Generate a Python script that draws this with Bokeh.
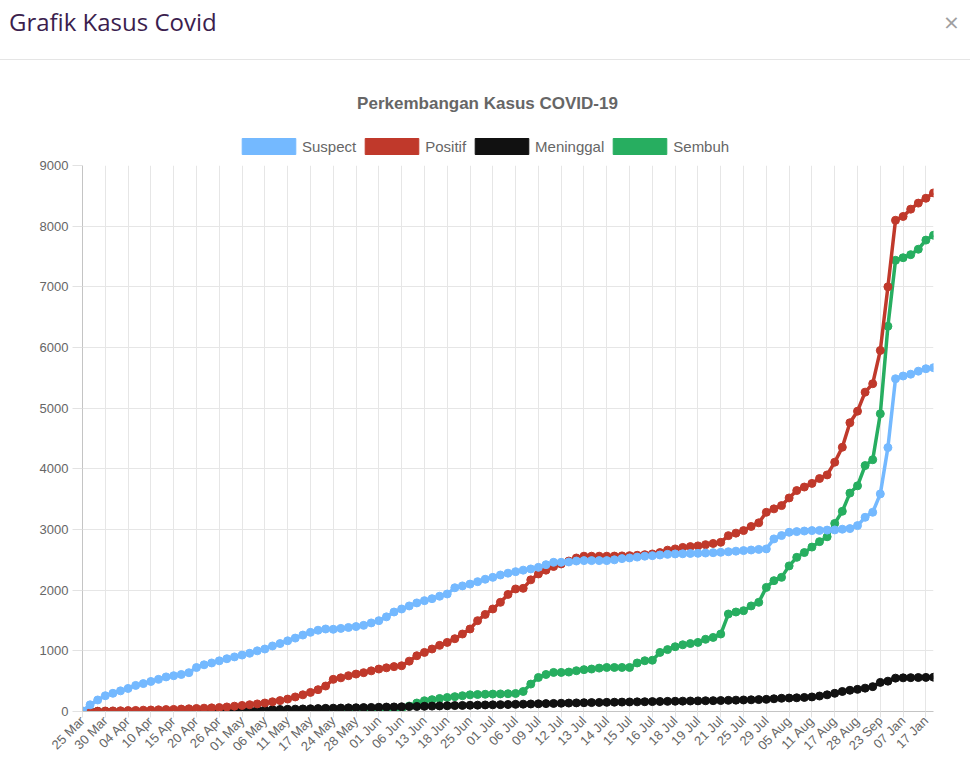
import math
from bokeh.plotting import figure
from bokeh.layouts import column
from bokeh.models import (ColumnDataSource, Range1d, FixedTicker, Label,
                          Legend, LegendItem, Div)
from bokeh.embed import file_html
from bokeh.resources import INLINE

# ---------------- data ----------------
tick_labels = ["25 Mar", "30 Mar", "04 Apr", "10 Apr", "15 Apr", "20 Apr", "26 Apr",
               "01 May", "06 May", "11 May", "17 May", "24 May", "28 May", "01 Jun",
               "06 Jun", "13 Jun", "18 Jun", "25 Jun", "01 Jul", "06 Jul", "09 Jul",
               "12 Jul", "13 Jul", "14 Jul", "15 Jul", "16 Jul", "18 Jul", "19 Jul",
               "21 Jul", "25 Jul", "29 Jul", "05 Aug", "11 Aug", "17 Aug", "28 Aug",
               "23 Sep", "07 Jan", "17 Jan"]
tick_step = 3  # one labelled record out of every three

suspect = [10, 110, 190, 260, 300, 340, 380, 430, 460, 495,
           530, 570, 590, 610, 640, 725, 770, 800, 835, 870,
           900, 930, 960, 1000, 1030, 1080, 1120, 1165, 1210, 1260,
           1305, 1340, 1360, 1355, 1370, 1385, 1400, 1420, 1460, 1497,
           1560, 1640, 1690, 1740, 1790, 1827, 1860, 1900, 1937, 2040,
           2070, 2100, 2140, 2180, 2211, 2250, 2280, 2305, 2330, 2350,
           2376, 2420, 2459, 2459, 2465, 2480, 2487, 2487, 2487, 2487,
           2500, 2520, 2531, 2545, 2560, 2569, 2580, 2590, 2597, 2600,
           2605, 2607, 2612, 2618, 2624, 2633, 2643, 2652, 2662, 2672,
           2680, 2845, 2900, 2954, 2965, 2975, 2982, 2985, 2990, 2993,
           3005, 3015, 3064, 3201, 3284, 3587, 4350, 5485, 5530, 5560,
           5610, 5650, 5667]

positif = [0, 2, 5, 8, 10, 12, 15, 18, 22, 25,
           28, 32, 35, 40, 45, 50, 55, 60, 65, 75,
           88, 100, 112, 125, 140, 160, 180, 205, 240, 275,
           315, 360, 420, 530, 555, 590, 617, 640, 670, 700,
           720, 740, 754, 830, 919, 974, 1030, 1090, 1139, 1200,
           1277, 1360, 1497, 1600, 1690, 1800, 1930, 2020, 2030, 2170,
           2267, 2330, 2390, 2432, 2480, 2530, 2560, 2560, 2560, 2560,
           2562, 2565, 2569, 2575, 2585, 2597, 2620, 2660, 2680, 2705,
           2718, 2730, 2750, 2770, 2789, 2899, 2940, 2982, 3050, 3110,
           3284, 3340, 3394, 3520, 3642, 3700, 3760, 3840, 3900, 4109,
           4356, 4760, 4950, 5264, 5403, 5952, 7000, 8097, 8160, 8280,
           8380, 8460, 8548]

meninggal = [0, 0, 0, 1, 1, 2, 2, 3, 3, 4,
             5, 6, 7, 8, 9, 10, 11, 13, 15, 16,
             18, 20, 23, 25, 28, 31, 33, 36, 39, 42,
             45, 48, 52, 55, 57, 60, 62, 65, 67, 70,
             73, 75, 78, 81, 83, 86, 89, 92, 95, 98,
             100, 103, 105, 108, 110, 113, 115, 118, 121, 124,
             127, 130, 133, 136, 139, 142, 145, 147, 149, 151,
             153, 155, 157, 159, 161, 163, 165, 167, 169, 171,
             173, 175, 177, 179, 181, 184, 187, 190, 193, 196,
             200, 210, 218, 222, 226, 232, 240, 255, 275, 300,
             330, 350, 365, 385, 410, 480, 500, 550, 555, 558,
             560, 562, 565]

sembuh = [0, 0, 0, 0, 0, 0, 0, 0, 0, 0,
          0, 0, 0, 0, 0, 0, 0, 0, 0, 0,
          0, 0, 0, 0, 0, 0, 0, 0, 0, 0,
          0, 0, 0, 0, 0, 0, 0, 0, 0, 0,
          0, 0, 40, 90, 140, 177, 195, 215, 231, 245,
          260, 275, 280, 284, 287, 290, 293, 297, 330, 452,
          561, 610, 644, 644, 650, 672, 690, 700, 715, 726,
          726, 726, 726, 800, 837, 845, 974, 1020, 1068, 1100,
          1120, 1139, 1190, 1221, 1277, 1607, 1640, 1662, 1740, 1800,
          2046, 2157, 2211, 2400, 2541, 2620, 2710, 2800, 2880, 3100,
          3300, 3600, 3720, 4054, 4150, 4908, 6350, 7437, 7480, 7530,
          7620, 7770, 7850]

y_ticks = [0, 1000, 2000, 3000, 4000, 5000, 6000, 7000, 8000, 9000]

series_names = ["Suspect", "Positif", "Meninggal", "Sembuh"]
series_colors = ["#74b9ff", "#c0392b", "#111111", "#27ae60"]
series_values = [suspect, positif, meninggal, sembuh]

FONT = "Liberation Sans"
NAN = float("nan")

# ---------------- title + legend strip ----------------
top = figure(width=970, height=97, output_backend="svg", toolbar_location=None,
             x_range=Range1d(0, 1), y_range=Range1d(0, 1),
             x_axis_type=None, y_axis_type=None, min_border=0)
top.outline_line_color = None
top.grid.visible = False

legend_items = []
for name, col in zip(series_names, series_colors):
    # a legend-only swatch (no visible mark in the plot area)
    q = top.quad(left=[NAN], right=[NAN], top=[NAN], bottom=[NAN],
                 fill_color=col, line_color=col)
    legend_items.append(LegendItem(label=name, renderers=[q]))

legend = Legend(items=legend_items, location=(153, 1), orientation="horizontal",
                glyph_width=67, glyph_height=20, label_height=20,
                label_text_font=FONT, label_text_font_size="15px",
                label_text_color="#666666", label_standoff=-1, spacing=2,
                padding=0, margin=0, border_line_color=None,
                background_fill_alpha=0)
top.add_layout(legend)

top.add_layout(Label(x=405, y=54, x_units="screen", y_units="screen",
                     text="Perkembangan Kasus COVID-19", text_align="center",
                     text_baseline="middle", text_font=FONT,
                     text_font_size="17px", text_font_style="bold",
                     text_color="#666666"))

# ---------------- main chart ----------------
n = len(suspect)
idx = list(range(n))
tick_idx = [k * tick_step for k in range(len(tick_labels))]

p = figure(width=970, height=605, output_backend="svg", toolbar_location=None,
           x_range=Range1d(0, n - 1), y_range=Range1d(0, 9000),
           min_border_left=82, min_border_right=37, min_border_top=8,
           min_border_bottom=51)
p.outline_line_color = None

p.xaxis.ticker = FixedTicker(ticks=tick_idx)
p.xaxis.major_label_overrides = {i: t for i, t in zip(tick_idx, tick_labels)}
p.xaxis.major_label_orientation = math.pi / 4
p.xaxis.major_label_text_font = FONT
p.xaxis.major_label_text_font_size = "13px"
p.xaxis.major_label_text_color = "#666666"
p.xaxis.major_label_standoff = 1
p.xaxis.major_tick_out = 6
p.xaxis.major_tick_in = 0
p.xaxis.minor_tick_line_color = None
p.xaxis.major_tick_line_color = "#e2e2e2"
p.xaxis.axis_line_color = "#c4c4c4"

p.yaxis.ticker = FixedTicker(ticks=y_ticks)
p.yaxis.major_tick_out = 10
p.yaxis.major_tick_in = 0
p.yaxis.minor_tick_line_color = None
p.yaxis.major_tick_line_color = "#e2e2e2"
p.yaxis.axis_line_color = "#c4c4c4"
p.yaxis.major_label_text_font = FONT
p.yaxis.major_label_text_font_size = "13px"
p.yaxis.major_label_text_color = "#666666"
p.yaxis.major_label_standoff = 4

p.xgrid.grid_line_color = "#e6e6e6"
p.ygrid.grid_line_color = "#e6e6e6"

# series (first dataset drawn on top, as in Chart.js)
for name, col, vals in reversed(list(zip(series_names, series_colors, series_values))):
    src = ColumnDataSource(dict(x=idx, y=vals))
    p.line("x", "y", source=src, line_color=col, line_width=3.5)
    p.scatter("x", "y", source=src, size=8, fill_color=col, line_color=col)

# ---------------- modal header ----------------
header = Div(width=970, height=60, margin=0, text="""
<div style="position:relative;width:970px;height:60px;">
  <div style="position:absolute;left:9px;top:8px;height:28px;line-height:28px;
       font-family:'Open Sans';font-size:24px;color:#3b1e4e;white-space:nowrap;">Grafik Kasus Covid</div>
  <div style="position:absolute;left:944px;top:8px;height:28px;line-height:28px;
       font-family:'Open Sans';font-size:26px;color:#a0a0a0;">&times;</div>
  <div style="position:absolute;left:0px;top:59px;width:970px;height:1px;background:#e5e5e5;"></div>
</div>
""")

layout = column(header, top, p)
open("out.html", "w").write(file_html(layout, INLINE))
